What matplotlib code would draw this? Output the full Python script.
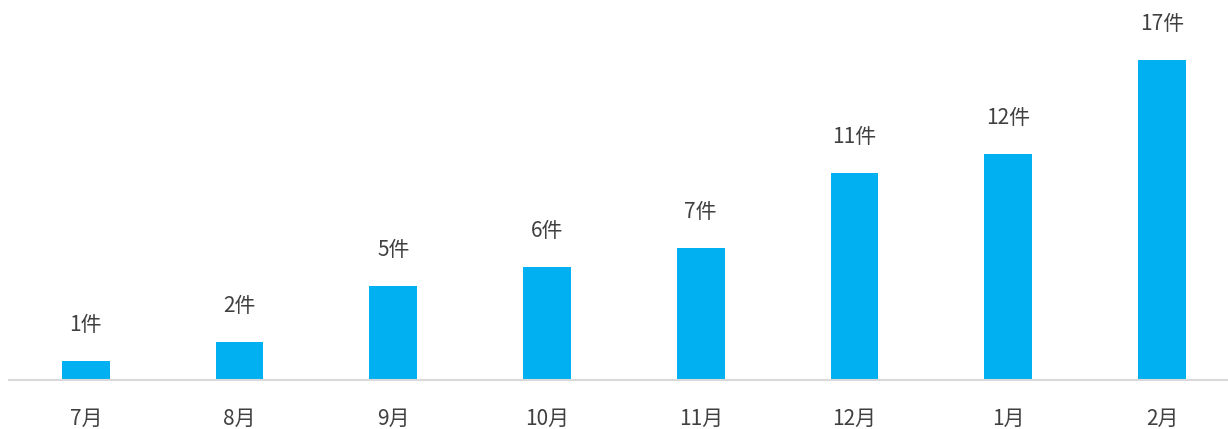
import matplotlib
matplotlib.use('Agg')
import matplotlib.pyplot as plt

plt.rcParams['font.family'] = ['Noto Sans CJK SC', 'DejaVu Sans']

months = ['7月', '8月', '9月', '10月', '11月', '12月', '1月', '2月']
counts = [1, 2, 5, 6, 7, 11, 12, 17]
labels = ['1件', '2件', '5件', '6件', '7件', '11件', '12件', '17件']

fig = plt.figure(figsize=(12.28, 4.29), dpi=100)
ax = fig.add_axes([0.0073, 0.114, 0.9927, 0.886])

x = range(len(months))
bars = ax.bar(x, counts, width=0.31, color='#00B0F0', zorder=2)

# 数据标签
for b, lab in zip(bars, labels):
    ax.annotate(lab, (b.get_x() + b.get_width() / 2, b.get_height()),
                xytext=(0, 18), textcoords='offset points',
                ha='center', va='bottom', fontsize=15, color='#404040',
                fontweight='light')

ax.set_xlim(-0.5, 7.43)
ax.set_ylim(0, 20.2)
ax.set_xticks(list(x))
ax.set_xticklabels(months, fontsize=15, color='#404040', fontweight='light')
ax.tick_params(axis='x', length=0, pad=20)
ax.set_yticks([])
for s in ['top', 'right', 'left']:
    ax.spines[s].set_visible(False)
ax.spines['bottom'].set_color('#D9D9D9')
ax.spines['bottom'].set_linewidth(1.5)

fig.savefig('out.png', dpi=100)
